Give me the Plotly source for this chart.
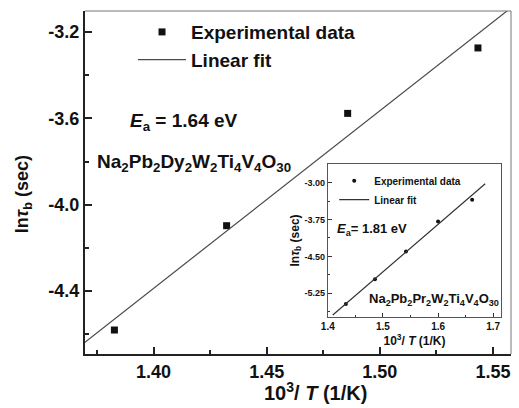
import plotly.graph_objects as go

# Main sample: Na2Pb2Dy2W2Ti4V4O30
main_x = [1.3827, 1.4323, 1.4858, 1.5434]
main_y = [-4.580, -4.097, -3.577, -3.274]
main_fit_x = [1.3600, 1.5600]
main_fit_y = [-4.716, -3.072]

# Inset sample: Na2Pb2Pr2W2Ti4V4O30
inset_x = [1.4327, 1.4855, 1.5418, 1.6000, 1.6618]
inset_y = [-5.473, -4.966, -4.399, -3.791, -3.345]
inset_fit_x = [1.409, 1.6855]
inset_fit_y = [-5.696, -3.020]

main_yticks = [-3.2, -3.6, -4.0, -4.4]
main_xticks = [1.40, 1.45, 1.50, 1.55]
inset_yticks = [-3.00, -3.75, -4.50, -5.25]
inset_xticks = [1.4, 1.5, 1.6, 1.7]

FONT = "Liberation Sans, Arial, sans-serif"
INK = "#111111"

fig = go.Figure()

fig.add_trace(go.Scatter(
    x=main_x, y=main_y, mode="markers", name="<b>Experimental data</b>",
    marker=dict(symbol="square", size=7, color=INK),
    xaxis="x", yaxis="y", legend="legend"))
fig.add_trace(go.Scatter(
    x=main_fit_x, y=main_fit_y, mode="lines", name="<b>Linear fit</b>",
    line=dict(color="#4a4a4a", width=1.2),
    xaxis="x", yaxis="y", legend="legend"))

fig.add_trace(go.Scatter(
    x=inset_x, y=inset_y, mode="markers", name="<b>Experimental data</b>",
    marker=dict(symbol="circle", size=4, color=INK),
    xaxis="x2", yaxis="y2", legend="legend2"))
fig.add_trace(go.Scatter(
    x=inset_fit_x, y=inset_fit_y, mode="lines", name="<b>Linear fit</b>",
    line=dict(color="#333333", width=1.2),
    xaxis="x2", yaxis="y2", legend="legend2"))

bold_tick = dict(family=FONT, size=18, color=INK, weight="bold")

fig.update_layout(
    width=519, height=408,
    margin=dict(l=85, r=8, t=11, b=54),
    paper_bgcolor="white", plot_bgcolor="white",
    font=dict(family=FONT, color=INK),
    xaxis=dict(
        domain=[0, 1], range=[1.3697, 1.558],
        tickvals=main_xticks, ticktext=[f"<b>{v:.2f}</b>" for v in main_xticks],
        tickfont=bold_tick, ticks="inside", ticklen=7, tickwidth=1.5, tickcolor="#222",
        minor=dict(dtick=0.025, tick0=1.375, ticks="inside", ticklen=4, tickcolor="#222"),
        showline=True, linecolor="#222", linewidth=2, showgrid=False, zeroline=False,
        anchor="y"),
    yaxis=dict(
        domain=[0, 1], range=[-4.691, -3.103],
        tickvals=main_yticks, ticktext=[f"<b>{v:.1f}</b>" for v in main_yticks],
        tickfont=bold_tick, ticks="inside", ticklen=7, tickwidth=1.5, tickcolor="#222",
        minor=dict(dtick=0.2, tick0=-3.4, ticks="inside", ticklen=4, tickcolor="#222"),
        showline=True, linecolor="#222", linewidth=2, showgrid=False, zeroline=False,
        anchor="x"),
    xaxis2=dict(
        domain=[0.570, 0.977], range=[1.40, 1.7145],
        tickvals=inset_xticks, ticktext=[f"<b>{v:.1f}</b>" for v in inset_xticks],
        tickfont=dict(family=FONT, size=10, color=INK),
        ticks="inside", ticklen=4, tickcolor="#333",
        minor=dict(dtick=0.05, tick0=1.45, ticks="inside", ticklen=2, tickcolor="#333"),
        showline=True, mirror=True, linecolor="#555", linewidth=1,
        showgrid=False, zeroline=False,
        title=dict(text="<b>10<sup>3</sup>/ <i>T</i> (1/K)</b>",
                   font=dict(family=FONT, size=12, color=INK), standoff=2),
        anchor="y2"),
    yaxis2=dict(
        domain=[0.108, 0.554], range=[-5.736, -2.615],
        tickvals=inset_yticks, ticktext=[f"<b>{v:.2f}</b>" for v in inset_yticks],
        tickfont=dict(family=FONT, size=9, color=INK),
        ticks="inside", ticklen=4, tickcolor="#333",
        minor=dict(dtick=0.375, tick0=-3.375, ticks="inside", ticklen=2, tickcolor="#333"),
        showline=True, mirror=True, linecolor="#555", linewidth=1,
        showgrid=False, zeroline=False,
        title=dict(text="<b>ln<i>τ</i><sub>b</sub> (sec)</b>",
                   font=dict(family=FONT, size=12, color=INK), standoff=2),
        anchor="x2"),
    legend=dict(
        x=0.1127, y=0.994, xanchor="left", yanchor="top",
        bgcolor="rgba(0,0,0,0)", font=dict(family=FONT, size=19, color=INK),
        tracegroupgap=0, itemwidth=48),
    legend2=dict(
        x=0.585, y=0.5475, xanchor="left", yanchor="top",
        bgcolor="rgba(0,0,0,0)", font=dict(family=FONT, size=10, color=INK),
        tracegroupgap=0, itemwidth=30),
    showlegend=True,
)

# Thin top and right frame of the main panel
fig.add_shape(type="line", xref="paper", yref="paper", x0=0, x1=1, y0=1, y1=1,
              line=dict(color="#777", width=1))
fig.add_shape(type="line", xref="paper", yref="paper", x0=1, x1=1, y0=0, y1=1,
              line=dict(color="#777", width=1))

# Main axis titles
fig.add_annotation(xref="paper", yref="paper", x=0.542, y=-0.108,
                   xanchor="center", yanchor="middle", showarrow=False,
                   text="<b>10<sup>3</sup>/ <i>T</i> (1/K)</b>",
                   font=dict(family=FONT, size=20, color=INK))
fig.add_annotation(xref="paper", yref="paper", x=-0.1455, y=0.466,
                   xanchor="center", yanchor="middle", showarrow=False,
                   textangle=-90,
                   text="<b>ln<i>τ</i><sub>b</sub> (sec)</b>",
                   font=dict(family=FONT, size=18, color=INK))

fig.add_annotation(xref="paper", yref="paper", x=0.101, y=0.676,
                   xanchor="left", yanchor="middle", showarrow=False,
                   text="<b><i>E</i><sub>a</sub> = 1.64 eV</b>",
                   font=dict(family=FONT, size=19, color=INK))
fig.add_annotation(xref="paper", yref="paper", x=0.023, y=0.557,
                   xanchor="left", yanchor="middle", showarrow=False,
                   text="<b>Na<sub>2</sub>Pb<sub>2</sub>Dy<sub>2</sub>W<sub>2</sub>"
                        "Ti<sub>4</sub>V<sub>4</sub>O<sub>30</sub></b>",
                   font=dict(family=FONT, size=19, color=INK))
fig.add_annotation(xref="paper", yref="paper", x=0.587, y=0.364,
                   xanchor="left", yanchor="middle", showarrow=False,
                   text="<b><i>E</i><sub>a</sub>= 1.81 eV</b>",
                   font=dict(family=FONT, size=13, color=INK))
fig.add_annotation(xref="paper", yref="paper", x=0.662, y=0.16,
                   xanchor="left", yanchor="middle", showarrow=False,
                   text="<b>Na<sub>2</sub>Pb<sub>2</sub>Pr<sub>2</sub>W<sub>2</sub>"
                        "Ti<sub>4</sub>V<sub>4</sub>O<sub>30</sub></b>",
                   font=dict(family=FONT, size=13, color=INK))

fig.write_html("out.html")
